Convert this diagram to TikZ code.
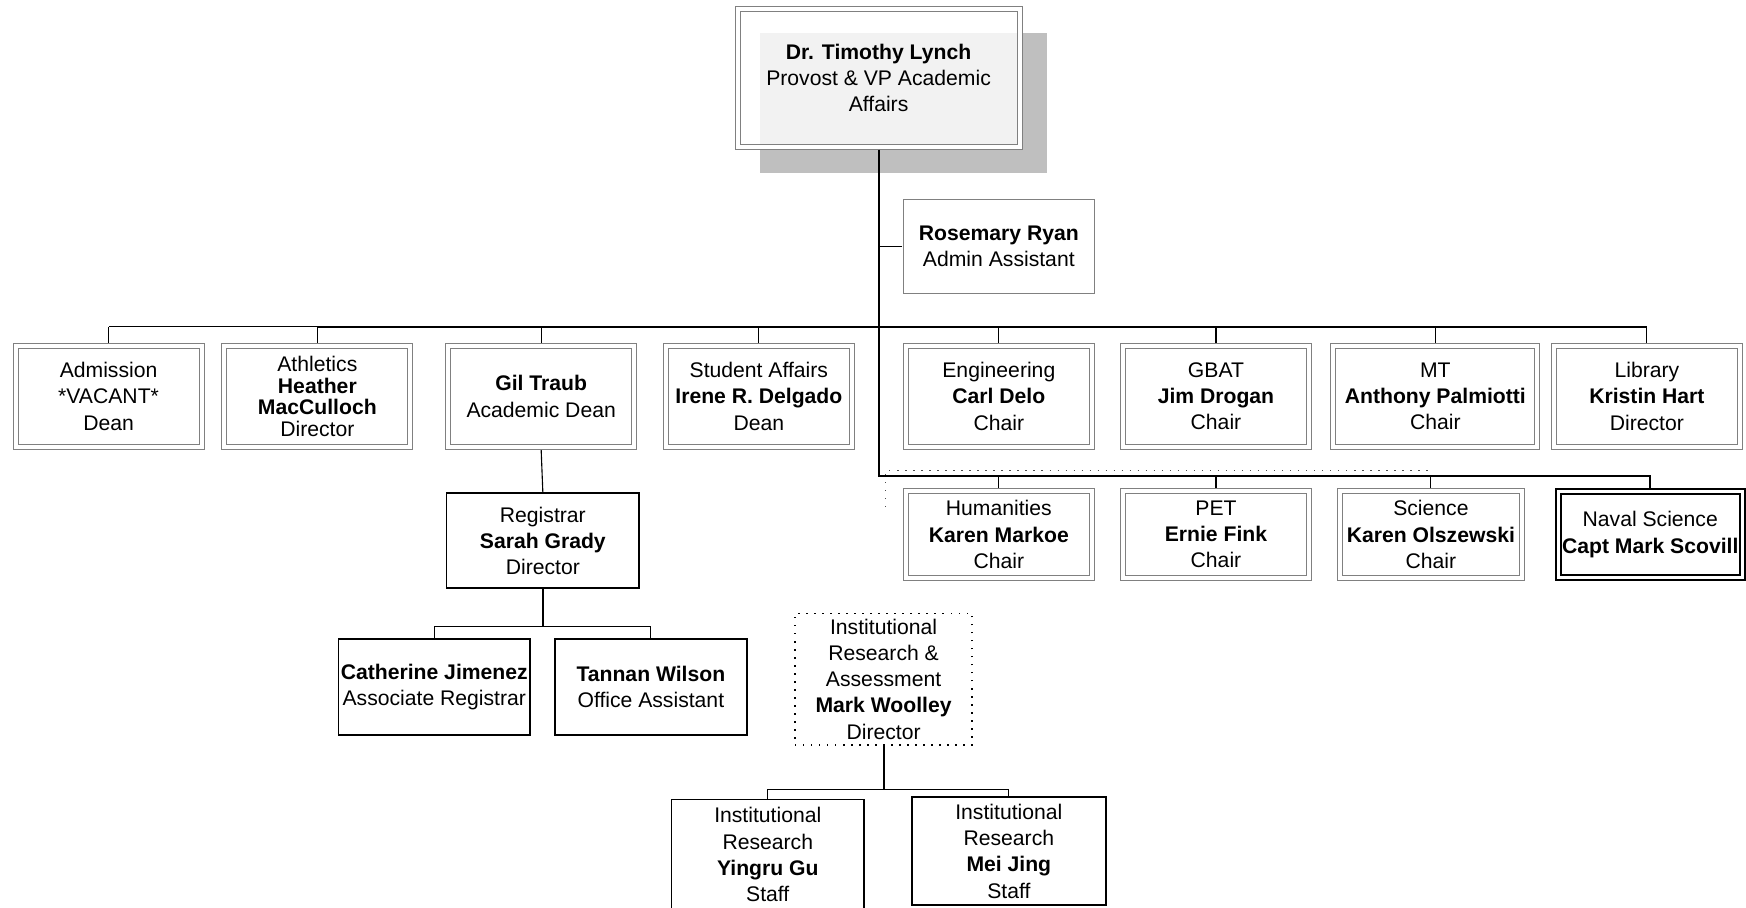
\documentclass[tikz,border=0pt]{standalone}
\usepackage{fontspec}
\setmainfont{Liberation Sans}
\usetikzlibrary{calc}
\usetikzlibrary{shadows}

\tikzset{
  deptbox/.style={rectangle, draw=black!50, line width=0.45pt, double=white, double distance=1.8pt,
    outer sep=1.35pt, inner sep=0pt, minimum width=83.5pt, minimum height=45.5pt, align=center,
    font=\fontsize{9.5}{11.75}\selectfont},
  depttight/.style={deptbox, font=\fontsize{9.5}{9.6}\selectfont},
  deptwide/.style={deptbox, minimum width=91.5pt},
  rowtwo/.style={deptbox, minimum height=39.5pt},
  rowtwonarrow/.style={rowtwo, minimum width=81.5pt},
  navalbox/.style={rectangle, draw=black, line width=0.9pt, double=white, double distance=1.4pt,
    outer sep=1.6pt, inner sep=0pt, minimum width=82.5pt, minimum height=38.5pt, align=center,
    font=\fontsize{9.5}{11.75}\selectfont},
  staffbox/.style={rectangle, draw=black, line width=0.8pt, outer sep=0.4pt, inner sep=0pt,
    minimum width=86pt, minimum height=42.5pt, align=center, font=\fontsize{9.5}{11.75}\selectfont},
  asstbox/.style={staffbox, draw=black!50, line width=0.45pt},
  groupbox/.style={staffbox, line width=0.6pt, dash pattern=on 0.6pt off 3pt},
  trunk/.style={line width=0.9pt},
  drop/.style={line width=0.5pt},
  dotline/.style={line width=0.6pt, dash pattern=on 0.6pt off 3pt, black!70}
}

\begin{document}
\begin{tikzpicture}[x=0.5pt,y=-0.5pt]
  \useasboundingbox (0,0) rectangle (1568,815);

  % Provost and assistant
  \node[deptbox, minimum width=126.6pt, minimum height=61.6pt, fill=white, fill opacity=0.8, text opacity=1,
    drop shadow={shadow xshift=11pt, shadow yshift=-11pt, shadow scale=1.02, fill=black!25, opacity=1}]
    (prov) at (789,70) {\textbf{Dr. Timothy Lynch}\\Provost \& VP Academic\\Affairs};
  \node[asstbox] (ryan) at (897,221.5) {\textbf{Rosemary Ryan}\\Admin Assistant};

  % Bus levels
  \coordinate (b1) at ($(prov.south)+(0,159)$);
  \coordinate (b2) at ($(prov.south)+(0,293)$);

  % First row
  \foreach \n/\xx/\sty/\txt in {adm/97.5/deptbox/{Admission\\*VACANT*\\Dean},
      ath/285/depttight/{Athletics\\\textbf{Heather}\\\textbf{MacCulloch}\\Director},
      gil/486/deptbox/{\textbf{Gil Traub}\\Academic Dean},
      stu/681.5/deptbox/{Student Affairs\\\textbf{Irene R. Delgado}\\Dean},
      eng/897/deptbox/{Engineering\\\textbf{Carl Delo}\\Chair},
      gbat/1092/deptbox/{GBAT\\\textbf{Jim Drogan}\\Chair},
      mt/1289/deptwide/{MT\\\textbf{Anthony Palmiotti}\\Chair},
      lib/1479/deptbox/{Library\\\textbf{Kristin Hart}\\Director}}
  {
    \node[\sty] (\n) at (\xx,356) {\txt};
    \draw[drop] (\n.north) -- (\n.north |- b1);
  }

  % Second row
  \foreach \n/\xx/\sty/\txt in {hum/897/rowtwo/{Humanities\\\textbf{Karen Markoe}\\Chair},
      pet/1092/rowtwo/{PET\\\textbf{Ernie Fink}\\Chair},
      sci/1285/rowtwonarrow/{Science\\\textbf{Karen Olszewski}\\Chair}}
  {
    \node[\sty] (\n) at (\xx,480) {\txt};
    \draw[drop] (\n.north) -- (\n.north |- b2);
  }
  \node[navalbox] (nav) at (1482,480) {Naval Science\\\textbf{Capt Mark Scovill}};

  % Leftover dotted group outline
  \coordinate (d1) at ($(b2)+(6,28)$);
  \coordinate (d2) at ($(sci.north)+(3,-15)$);
  \draw[dotline] (d1) |- (d2);

  % Trunk and buses
  \draw[trunk] (prov.south) -- (b2) -| (nav.north);
  \draw[drop] (ryan.west) -- (ryan.west -| b1);
  \draw[drop] (adm.north |- b1) -- (ath.north |- b1);
  \draw[trunk] (ath.north |- b1) -- (lib.north |- b1);

  % Registrar branch
  \node[staffbox, minimum width=86.5pt] (reg) at (487.5,485.5) {Registrar\\\textbf{Sarah Grady}\\Director};
  \node[staffbox, minimum height=43pt] (cat) at (390,617) {\textbf{Catherine Jimenez}\\Associate Registrar};
  \node[staffbox, minimum height=43pt] (tan) at (584.5,617) {\textbf{Tannan Wilson}\\Office Assistant};
  \coordinate (rb) at ($(reg.south)+(0,34)$);
  \draw[drop] (gil.south) -- (reg.north);
  \draw[trunk] (reg.south) -- (rb);
  \draw[drop] (cat.north) |- (rb) -| (tan.north);

  % Institutional research
  \node[groupbox, minimum width=79.5pt, minimum height=59pt] (ira) at (793.5,610)
    {Institutional\\Research \&\\Assessment\\\textbf{Mark Woolley}\\Director};
  \node[staffbox, minimum width=86.5pt, minimum height=49.5pt] (yin) at (689.5,767.5)
    {Institutional\\Research\\\textbf{Yingru Gu}\\Staff};
  \node[staffbox, minimum width=87pt, minimum height=48.5pt] (mei) at (906,764.5)
    {Institutional\\Research\\\textbf{Mei Jing}\\Staff};
  \coordinate (ib) at ($(ira.south)+(0,39)$);
  \draw[trunk] (ira.south) -- (ib);
  \draw[drop] (yin.north) |- (ib) -| (mei.north);
\end{tikzpicture}
\end{document}
